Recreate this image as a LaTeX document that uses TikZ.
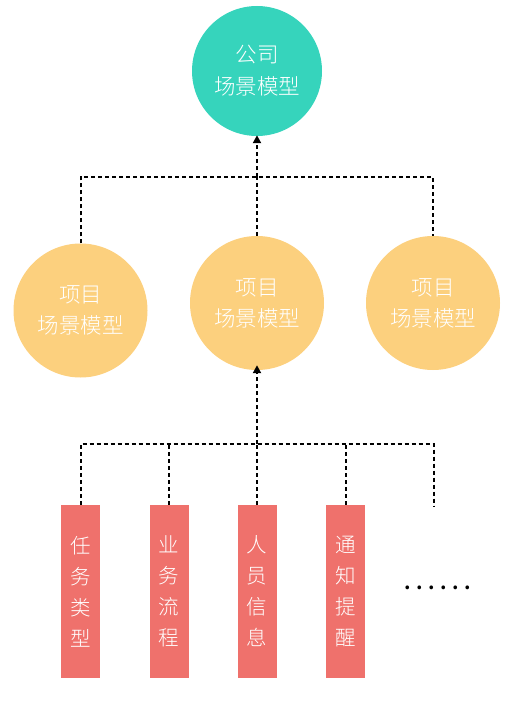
\documentclass[tikz,border=0pt]{standalone}
\usepackage{fontspec}
\newfontfamily\cjk{Noto Sans CJK SC}[UprightFont={* Light}]
\usetikzlibrary{arrows.meta}
\definecolor{teal1}{HTML}{36D4BC}
\definecolor{yel1}{HTML}{FCD07E}
\definecolor{red1}{HTML}{EF716C}
\begin{document}
\begin{tikzpicture}[x=1pt,y=-1pt,
  company/.style={circle,fill=teal1,minimum size=130pt,inner sep=0pt,text=white,font=\cjk\fontsize{21.5}{32}\selectfont,align=center},
  project/.style={circle,fill=yel1,minimum size=134pt,inner sep=0pt,text=white,font=\cjk\fontsize{21.5}{31}\selectfont,align=center},
  item/.style={rectangle,fill=red1,minimum width=39pt,minimum height=173pt,inner sep=0pt,text=white,font=\cjk\fontsize{20.5}{31}\selectfont,align=center},
  link/.style={line width=2pt,dash pattern=on 4pt off 3pt},
  linkarrow/.style={link,-{Triangle[length=8pt,width=8pt]}}
]
\useasboundingbox (0,0) rectangle (524,706);
\node[company] (top) at (257,71) {公司\\场景模型};
\node[project] (p1) at (80.5,310.5) {项目\\场景模型};
\node[project] (p2) at (257,303) {项目\\场景模型};
\node[project] (p3) at (433,303) {项目\\场景模型};
\node[item] (i1) at (80.5,591.5) {任\\务\\类\\型};
\node[item] (i2) at (169,591.5) {业\\务\\流\\程};
\node[item] (i3) at (257,591.5) {人\\员\\信\\息};
\node[item] (i4) at (345.5,591.5) {通\\知\\提\\醒};
\node[text=black,font=\cjk\fontsize{20}{20}\selectfont\bfseries,inner sep=0pt] (more) at (438,588) {.\hskip5.5pt.\hskip5.5pt.\hskip5.5pt.\hskip5.5pt.\hskip5.5pt.};
\coordinate (j1) at (257,177);
\coordinate (j2) at (257,444);
\coordinate (e5) at (434,506);
% upper connectors
\draw[link] (p1.north) |- (j1) -| (p3.north);
\draw[link] (p2.north) -- (j1);
\draw[linkarrow] (j1) -- ([yshift=1pt]top.south);
% lower connectors
\draw[link] (i1.north) |- (j2) -| (e5);
\draw[link] (i2.north) -- (i2.north |- j2);
\draw[link] (i3.north) -- (j2);
\draw[link] (i4.north) -- (i4.north |- j2);
\draw[linkarrow] (j2) -- ([yshift=5pt]p2.south);
\end{tikzpicture}
\end{document}
